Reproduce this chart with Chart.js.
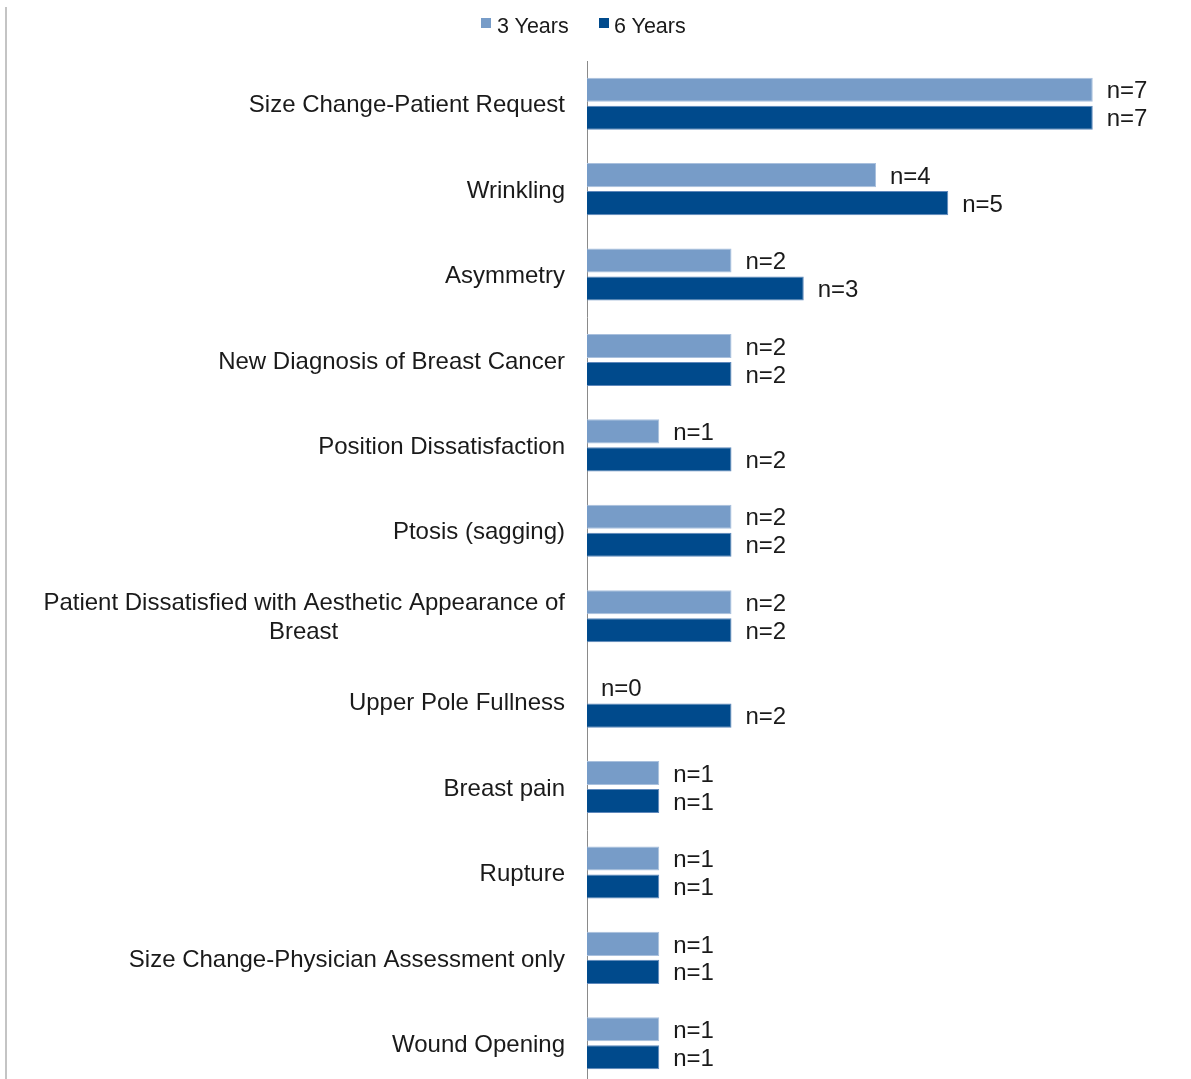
<!DOCTYPE html>
<html>
<head>
<meta charset="utf-8">
<script src="https://cdn.jsdelivr.net/npm/chart.js@4.4.0/dist/chart.umd.min.js"></script>
<style>
  html, body { margin: 0; padding: 0; background: #ffffff; overflow: hidden; width: 1191px; height: 1079px; }
  #wrap { position: relative; width: 1191px; height: 1079px; overflow: hidden; }
  #frame { position: absolute; left: 5px; top: 7px; bottom: 0; border-left: 2px solid #c4c4c4; }
  canvas { position: absolute; left: 0; top: 0; }
  .lg-box { position: absolute; width: 10px; height: 10px; }
  .lg-text { position: absolute; font: 21.5px "Liberation Sans", Arial, sans-serif; line-height: 26px; color: #1a1a1a; white-space: nowrap; }
</style>
</head>
<body>
<div id="wrap">
  <div id="frame"></div>
  <canvas id="c" width="1191" height="1090"></canvas>
  <div id="legend"></div>
</div>
<script>
const categories = [
  'Size Change-Patient Request',
  'Wrinkling',
  'Asymmetry',
  'New Diagnosis of Breast Cancer',
  'Position Dissatisfaction',
  'Ptosis (sagging)',
  ['Patient Dissatisfied with Aesthetic Appearance of', 'Breast'],
  'Upper Pole Fullness',
  'Breast pain',
  'Rupture',
  'Size Change-Physician Assessment only',
  'Wound Opening'
];
const seriesNames = ['3 Years', '6 Years'];
const years3 = [7, 4, 2, 2, 1, 2, 2, 0, 1, 1, 1, 1];
const years6 = [7, 5, 3, 2, 2, 2, 2, 2, 1, 1, 1, 1];

const lightBlue = '#779cc8';
const darkBlue = '#004a8c';
const FONT = '"Liberation Sans", Arial, sans-serif';

// HTML legend
(function () {
  const lg = document.getElementById('legend');
  const items = [
    { name: seriesNames[0], color: lightBlue, box: 481, text: 497 },
    { name: seriesNames[1], color: darkBlue, box: 599, text: 614 }
  ];
  items.forEach(it => {
    const b = document.createElement('div');
    b.className = 'lg-box';
    b.style.left = it.box + 'px';
    b.style.top = '18px';
    b.style.background = it.color;
    lg.appendChild(b);
    const t = document.createElement('div');
    t.className = 'lg-text';
    t.style.left = it.text + 'px';
    t.style.top = '13px';
    t.textContent = it.name;
    lg.appendChild(t);
  });
})();

const measureCtx = document.createElement('canvas').getContext('2d');
measureCtx.font = '24px ' + FONT;

function centerLines(label) {
  if (!Array.isArray(label)) return label;
  const widths = label.map(l => measureCtx.measureText(l).width);
  const maxW = Math.max(...widths);
  const sp = measureCtx.measureText(' ').width;
  return label.map((l, i) => l + ' '.repeat(Math.max(0, Math.round((maxW - widths[i]) / 2 / sp))));
}

const valueLabels = {
  id: 'valueLabels',
  afterDatasetsDraw(chart) {
    const ctx = chart.ctx;
    ctx.save();
    ctx.font = '24px ' + FONT;
    ctx.fillStyle = '#1a1a1a';
    ctx.textAlign = 'left';
    ctx.textBaseline = 'middle';
    chart.data.datasets.forEach((ds, i) => {
      const meta = chart.getDatasetMeta(i);
      meta.data.forEach((el, j) => {
        ctx.fillText('n=' + ds.data[j], el.x + 14, el.y + 2);
      });
    });
    ctx.restore();
  }
};

new Chart(document.getElementById('c'), {
  type: 'bar',
  data: {
    labels: categories,
    datasets: [
      {
        label: seriesNames[0],
        data: years3,
        backgroundColor: lightBlue,
        borderColor: '#a9c0dd',
        borderWidth: 1,
        categoryPercentage: 0.655,
        barPercentage: 0.86
      },
      {
        label: seriesNames[1],
        data: years6,
        backgroundColor: darkBlue,
        borderColor: '#5f88bb',
        borderWidth: 1,
        categoryPercentage: 0.655,
        barPercentage: 0.86
      }
    ]
  },
  options: {
    indexAxis: 'y',
    responsive: false,
    animation: false,
    devicePixelRatio: 1,
    layout: { padding: { top: 61, left: 0, right: 26, bottom: 4 } },
    plugins: {
      legend: { display: false },
      tooltip: { enabled: false }
    },
    scales: {
      x: { display: false, min: 0, max: 8 },
      y: {
        grid: { display: false, drawTicks: false },
        border: { display: true, color: '#8a8a8a', width: 1 },
        ticks: {
          padding: 22,
          labelOffset: 2,
          color: '#1a1a1a',
          font: { family: FONT, size: 24, lineHeight: 1.2 },
          callback: function (value) { return centerLines(this.getLabelForValue(value)); }
        },
        afterFit(scale) {
          scale.width = 587;
          scale.paddingTop = 0;
          scale.paddingBottom = 0;
        }
      }
    }
  },
  plugins: [valueLabels]
});
</script>
</body>
</html>
